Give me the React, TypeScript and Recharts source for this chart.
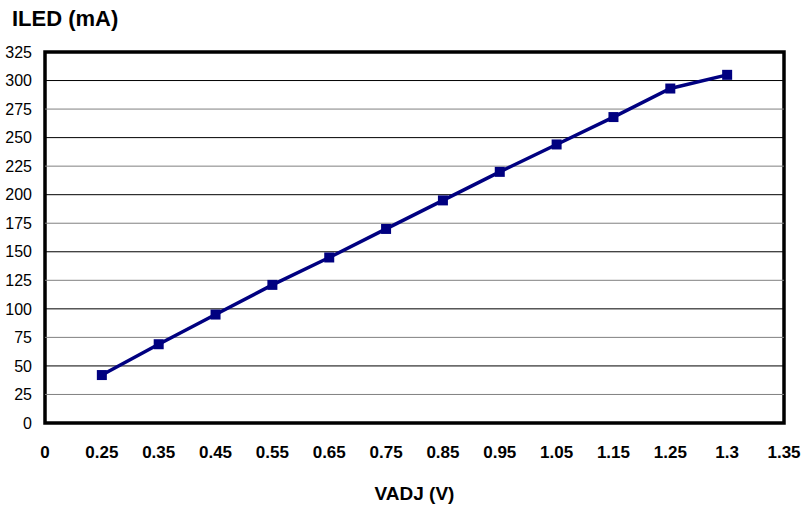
import React from "react";
import { LineChart, Line, XAxis, YAxis, ReferenceLine, ReferenceArea, Label } from "recharts";

const categories = ["0", "0.25", "0.35", "0.45", "0.55", "0.65", "0.75", "0.85", "0.95", "1.05", "1.15", "1.25", "1.3", "1.35"];
const iledValues: (number | null)[] = [null, 42, 69, 95, 121, 145, 170, 195, 220, 244, 268, 293, 305, null];
const yTicks = [0, 25, 50, 75, 100, 125, 150, 175, 200, 225, 250, 275, 300, 325];

const data = categories.map((c, i) => ({ vadj: c, iled: iledValues[i] }));

const SquareDot = (props: any) => {
  const { cx, cy, value } = props;
  if (value == null || cx == null || cy == null) return null;
  return <rect x={cx - 5} y={cy - 5} width={10} height={10} fill="#000080" />;
};

export default function App() {
  return (
    <div style={{ position: "absolute", left: 0, top: 0, width: 803, height: 506, background: "#fff", fontFamily: "'Liberation Sans', Arial, sans-serif" }}>
      <div style={{ position: "absolute", left: 12, top: 6, fontSize: 22, fontWeight: "bold", color: "#000", fontFamily: "'Liberation Sans', Arial, sans-serif" }}>ILED (mA)</div>
      <LineChart width={803} height={506} data={data} margin={{ top: 52, right: 19, left: 0, bottom: 0 }}>
        <XAxis
          dataKey="vadj"
          axisLine={false}
          tickLine={false}
          tickSize={0}
          tickMargin={23}
          height={83}
          interval={0}
          tick={{ fill: "#000", fontSize: 17, fontWeight: "bold", fontFamily: "'Liberation Sans', Arial, sans-serif" }}
        >
          <Label value="VADJ (V)" position="insideBottom" offset={6} style={{ fill: "#000", fontSize: 19, fontWeight: "bold", fontFamily: "'Liberation Sans', Arial, sans-serif" }} />
        </XAxis>
        <YAxis
          domain={[0, 325]}
          ticks={yTicks}
          interval={0}
          width={45}
          axisLine={false}
          tickLine={false}
          tickSize={0}
          tickMargin={13}
          tick={{ fill: "#000", fontSize: 16, fontFamily: "'Liberation Sans', Arial, sans-serif" }}
        />
        {yTicks.filter((t) => t > 0 && t < 325).map((t) => (
          <ReferenceLine key={t} y={t} stroke={t % 50 === 0 ? "#000" : "#808080"} strokeWidth={1} />
        ))}
        <ReferenceArea x1="0" x2="1.35" y1={0} y2={325} fill="none" stroke="#000" strokeWidth={3.5} ifOverflow="visible" />
        <Line
          type="linear"
          dataKey="iled"
          stroke="#000080"
          strokeWidth={3.5}
          dot={<SquareDot />}
          activeDot={false}
          isAnimationActive={false}
          connectNulls={false}
        />
      </LineChart>
    </div>
  );
}
